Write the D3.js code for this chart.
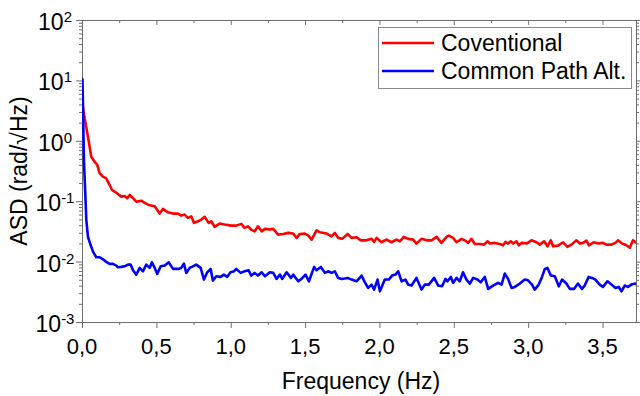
<!DOCTYPE html>
<html>
<head>
<meta charset="utf-8">
<script src="https://cdn.jsdelivr.net/npm/d3@7"></script>
<style>
  html, body { margin: 0; padding: 0; background: #fff; }
  svg { display: block; }
  text { font-family: "Liberation Sans", Arial, sans-serif; fill: #000; }
</style>
</head>
<body>
<svg id="chart" width="640" height="396"></svg>
<script>
// ---- data ----
const xTickValues = [0, 0.5, 1.0, 1.5, 2.0, 2.5, 3.0, 3.5];
const yTickExponents = [-3, -2, -1, 0, 1, 2];
const seriesNames = ["Coventional", "Common Path Alt."];

const freqConv = [0.003,0.018,0.040,0.0625,0.085,0.103,0.119,0.141,0.163,0.186,0.202,0.231,0.264,0.287,0.304,0.321,0.343,0.365,0.399,0.421,0.455,0.489,0.522,0.544,0.578,0.612,0.645,0.667,0.690,0.712,0.735,0.753,0.780,0.802,0.825,0.851,0.869,0.892,0.925,0.959,1.003,1.037,1.071,1.093,1.116,1.138,1.161,1.183,1.208,1.230,1.263,1.286,1.319,1.353,1.386,1.420,1.443,1.465,1.499,1.521,1.544,1.577,1.599,1.645,1.678,1.700,1.722,1.749,1.786,1.812,1.846,1.875,1.913,1.947,1.964,1.981,2.014,2.048,2.081,2.115,2.137,2.164,2.193,2.227,2.249,2.283,2.317,2.350,2.384,2.417,2.451,2.466,2.495,2.518,2.552,2.574,2.596,2.619,2.641,2.675,2.704,2.727,2.742,2.776,2.809,2.831,2.847,2.865,2.883,2.899,2.921,2.937,2.955,2.989,3.022,3.056,3.078,3.107,3.130,3.152,3.167,3.201,3.235,3.264,3.291,3.325,3.347,3.369,3.392,3.409,3.441,3.470,3.503,3.526,3.560,3.587,3.604,3.631,3.661,3.683,3.705,3.728,3.750];
const asdConv = [4.2,2.36,1.17,0.545,0.451,0.397,0.290,0.255,0.239,0.185,0.153,0.138,0.119,0.122,0.112,0.127,0.112,0.098,0.102,0.0937,0.0855,0.0823,0.0623,0.0746,0.0655,0.0623,0.0623,0.0577,0.0600,0.0529,0.0562,0.0437,0.0465,0.0496,0.0550,0.0437,0.0465,0.0375,0.0426,0.0410,0.0394,0.0394,0.0421,0.0361,0.0384,0.0339,0.0317,0.0384,0.0317,0.0348,0.0339,0.0348,0.0280,0.0287,0.0299,0.0291,0.0247,0.0287,0.0291,0.0270,0.0231,0.0330,0.0306,0.0291,0.0262,0.0299,0.0247,0.0238,0.0287,0.0247,0.0253,0.0225,0.0225,0.0238,0.0212,0.0247,0.0209,0.0231,0.0209,0.0231,0.0217,0.0256,0.0238,0.0231,0.0199,0.0238,0.0225,0.0225,0.0256,0.0204,0.0256,0.0270,0.0247,0.0209,0.0238,0.0225,0.0204,0.0238,0.0196,0.0196,0.0191,0.0217,0.0199,0.0204,0.0196,0.0186,0.0212,0.0199,0.0217,0.0199,0.0217,0.0186,0.0204,0.0199,0.0225,0.0209,0.0191,0.0217,0.0179,0.0225,0.0179,0.0184,0.0209,0.0175,0.0191,0.0225,0.0199,0.0204,0.0223,0.0186,0.0209,0.0199,0.0204,0.0191,0.0191,0.0204,0.0225,0.0199,0.0186,0.0169,0.0225,0.0204,0.0212];

const freqCP = [0.003,0.009,0.013,0.022,0.029,0.040,0.058,0.074,0.096,0.119,0.141,0.163,0.186,0.208,0.231,0.242,0.264,0.287,0.309,0.327,0.343,0.365,0.388,0.410,0.432,0.455,0.470,0.489,0.506,0.529,0.556,0.583,0.612,0.645,0.667,0.685,0.701,0.724,0.746,0.768,0.798,0.820,0.842,0.865,0.880,0.903,0.932,0.954,0.976,0.999,1.022,1.037,1.067,1.093,1.120,1.138,1.161,1.183,1.208,1.230,1.263,1.286,1.308,1.331,1.346,1.376,1.405,1.420,1.454,1.476,1.503,1.526,1.561,1.577,1.606,1.633,1.655,1.678,1.700,1.722,1.749,1.786,1.812,1.846,1.880,1.902,1.924,1.947,1.964,1.987,2.003,2.036,2.063,2.085,2.108,2.126,2.149,2.175,2.193,2.216,2.249,2.283,2.305,2.332,2.368,2.395,2.421,2.444,2.458,2.480,2.495,2.518,2.540,2.562,2.585,2.608,2.630,2.659,2.681,2.708,2.731,2.764,2.798,2.821,2.843,2.865,2.888,2.910,2.944,2.977,2.999,3.026,3.044,3.071,3.093,3.112,3.130,3.152,3.179,3.206,3.228,3.257,3.280,3.308,3.335,3.362,3.380,3.407,3.429,3.452,3.481,3.503,3.533,3.560,3.587,3.609,3.627,3.649,3.671,3.694,3.721,3.739];
const asdCP = [10.8,1.71,0.481,0.135,0.0488,0.0258,0.0188,0.0146,0.0118,0.0118,0.0109,0.0099,0.00916,0.00916,0.00859,0.00805,0.00817,0.00836,0.00892,0.00892,0.00718,0.00609,0.00786,0.00691,0.00892,0.00786,0.00974,0.00786,0.00626,0.00836,0.00859,0.00974,0.00757,0.00757,0.00786,0.00927,0.00650,0.00786,0.00836,0.00892,0.00786,0.00504,0.00665,0.00757,0.00485,0.00571,0.00558,0.00609,0.00558,0.00665,0.00691,0.00757,0.00650,0.00691,0.00718,0.00587,0.00650,0.00587,0.00665,0.00571,0.00665,0.00650,0.00517,0.00609,0.00517,0.00665,0.00537,0.00609,0.00472,0.00517,0.00609,0.00472,0.00817,0.00718,0.00817,0.00650,0.00691,0.00650,0.00691,0.00537,0.00517,0.00537,0.00504,0.00472,0.00587,0.00454,0.00367,0.00416,0.00344,0.00504,0.00322,0.00504,0.00504,0.00587,0.00609,0.00691,0.00472,0.00504,0.00416,0.00401,0.00537,0.00344,0.00416,0.00416,0.00537,0.00401,0.00390,0.00517,0.00472,0.00558,0.00444,0.00537,0.00472,0.00665,0.00504,0.00433,0.00537,0.00504,0.00454,0.00558,0.00353,0.00401,0.00444,0.00416,0.00633,0.00517,0.00367,0.00381,0.00433,0.00504,0.00490,0.00416,0.00344,0.00416,0.00558,0.00757,0.00786,0.00587,0.00571,0.00390,0.00504,0.00433,0.00353,0.00353,0.00433,0.00353,0.00401,0.00558,0.00537,0.00504,0.00416,0.00381,0.00472,0.00416,0.00367,0.00381,0.00322,0.00401,0.00381,0.00416,0.00433,0.00401];

// ---- layout ----
const svg = d3.select("#chart");
const m = { left: 82, top: 20, right: 4, bottom: 74 };
const W = 640, H = 396;
const pw = W - m.left - m.right, ph = H - m.top - m.bottom;
const axisColor = "#6e6e6e";

const x = d3.scaleLinear().domain([0, 3.725]).range([0, pw]);
const y = d3.scaleLog().domain([1e-3, 1e2]).range([ph, 0]);

const g = svg.append("g").attr("transform", `translate(${m.left},${m.top})`);

g.append("defs").append("clipPath").attr("id", "clip")
  .append("rect").attr("x", 0).attr("y", 0).attr("width", pw).attr("height", ph);

// minor tick values
const xMinor = xTickValues.map(v => v + 0.25).filter(v => v < 3.725);
const yMajor = yTickExponents.map(e => Math.pow(10, e));
const yMinor = [];
yTickExponents.slice(0, -1).forEach(e => { for (let k = 2; k <= 9; k++) yMinor.push(k * Math.pow(10, e)); });

function styleAxis(sel) {
  sel.selectAll("path").attr("stroke", axisColor).attr("stroke-width", 1);
  sel.selectAll("line").attr("stroke", axisColor).attr("stroke-width", 1);
  sel.selectAll("text").remove();
}

// bottom axis
g.append("g").attr("transform", `translate(0,${ph})`)
  .call(d3.axisBottom(x).tickValues(xTickValues).tickSize(6).tickSizeOuter(0).tickFormat(""))
  .call(styleAxis);
g.append("g").attr("transform", `translate(0,${ph})`)
  .call(d3.axisBottom(x).tickValues(xMinor).tickSize(3).tickSizeOuter(0).tickFormat(""))
  .call(styleAxis);
// top axis (ticks inward)
g.append("g")
  .call(d3.axisTop(x).tickValues(xTickValues).tickSize(-5).tickSizeOuter(0).tickFormat(""))
  .call(styleAxis);
g.append("g")
  .call(d3.axisTop(x).tickValues(xMinor).tickSize(-3).tickSizeOuter(0).tickFormat(""))
  .call(styleAxis);
// left axis
g.append("g")
  .call(d3.axisLeft(y).tickValues(yMajor).tickSize(6).tickSizeOuter(0).tickFormat(""))
  .call(styleAxis);
g.append("g")
  .call(d3.axisLeft(y).tickValues(yMinor).tickSize(3).tickSizeOuter(0).tickFormat(""))
  .call(styleAxis);
// right axis
g.append("g").attr("transform", `translate(${pw},0)`)
  .call(d3.axisRight(y).tickValues(yMajor).tickSize(6).tickSizeOuter(0).tickFormat(""))
  .call(styleAxis);
g.append("g").attr("transform", `translate(${pw},0)`)
  .call(d3.axisRight(y).tickValues(yMinor).tickSize(3).tickSizeOuter(0).tickFormat(""))
  .call(styleAxis);

// x tick labels
g.selectAll(".xl").data(xTickValues).join("text")
  .attr("x", d => x(d)).attr("y", ph + 32)
  .attr("text-anchor", "middle").attr("font-size", 22)
  .text(d => d.toFixed(1).replace(".", ","));

// y tick labels 10^e
const yl = g.selectAll(".yl").data(yTickExponents).join("text")
  .attr("x", -27).attr("y", d => y(Math.pow(10, d)) + 10)
  .attr("text-anchor", "middle").attr("font-size", 23);
yl.append("tspan").text("10");
yl.append("tspan").attr("font-size", 15).attr("dy", -8).text(d => d < 0 ? "-" + (-d) : String(d));

// axis titles
svg.append("text").attr("x", m.left + pw / 2 + 2).attr("y", 389)
  .attr("text-anchor", "middle").attr("font-size", 23).text("Frequency (Hz)");
svg.append("text").attr("transform", "translate(27,171) rotate(-90)")
  .attr("text-anchor", "middle").attr("font-size", 23).text("ASD (rad/\u221AHz)");

// lines
const line = d3.line().x(d => x(d[0])).y(d => y(d[1]));
const series = [
  { name: seriesNames[0], color: "#ff0000", pts: d3.zip(freqConv, asdConv) },
  { name: seriesNames[1], color: "#0000ff", pts: d3.zip(freqCP, asdCP) }
];
const lg = g.append("g").attr("clip-path", "url(#clip)");
series.forEach(s => {
  lg.append("path").datum(s.pts).attr("d", line)
    .attr("fill", "none").attr("stroke", s.color).attr("stroke-width", 2.6)
    .attr("stroke-linejoin", "round");
});

// legend
const leg = svg.append("g");
leg.append("rect").attr("x", 378.5).attr("y", 27.5).attr("width", 253).attr("height", 61)
  .attr("fill", "#fff").attr("stroke", "#8a8a8a").attr("stroke-width", 1);
series.forEach((s, i) => {
  const yy = 43 + i * 28;
  leg.append("line").attr("x1", 382).attr("x2", 434).attr("y1", yy).attr("y2", yy)
    .attr("stroke", s.color).attr("stroke-width", 2.6);
  leg.append("text").attr("x", 441).attr("y", yy + 8).attr("font-size", 23).text(s.name);
});
</script>
</body>
</html>
